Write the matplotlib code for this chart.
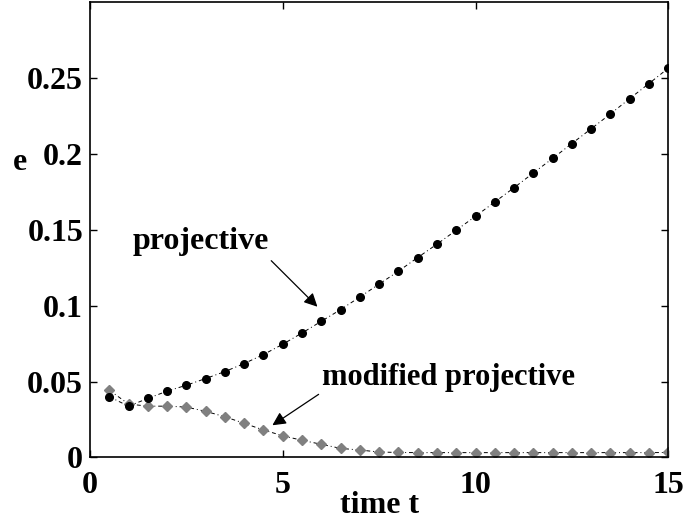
import matplotlib.pyplot as plt
import numpy as np

# time points and error values
t = np.arange(0.5, 15.01, 0.5)
e_proj = [0.040, 0.0338, 0.0389, 0.0437, 0.0476, 0.052, 0.0566, 0.0619, 0.0678, 0.0746,
          0.082, 0.0897, 0.0974, 0.1057, 0.1142, 0.1227, 0.1317, 0.1405, 0.1497, 0.1589,
          0.1683, 0.1777, 0.1874, 0.197, 0.2068, 0.2165, 0.2263, 0.2364, 0.2463, 0.2564]
e_mod = [0.0443, 0.0352, 0.0338, 0.0338, 0.0332, 0.0304, 0.0268, 0.0225, 0.0181, 0.0143,
         0.0113, 0.0087, 0.006, 0.0049, 0.0036, 0.0033, 0.0032, 0.0032, 0.0032, 0.0032,
         0.0032, 0.0032, 0.0032, 0.0032, 0.0032, 0.0032, 0.0032, 0.0032, 0.0032, 0.0033]
xticks = [0, 5, 10, 15]
yticks = [0, 0.05, 0.1, 0.15, 0.2, 0.25]
yticklabels = ['0', '0.05', '0.1', '0.15', '0.2', '0.25']

plt.rcParams['font.family'] = ['Liberation Serif', 'DejaVu Serif']
plt.rcParams['font.weight'] = 'bold'

fig = plt.figure(figsize=(6.85, 5.25), dpi=100)
ax = fig.add_axes([0.1314, 0.1286, 0.8442, 0.8676])

dash = (0, (4, 3, 1, 3))
# dash-dot lines first, markers on top
ax.plot(t, e_proj, color='black', lw=0.7, linestyle=dash)
ax.plot(t, e_mod, color='black', lw=0.7, linestyle=dash)
ax.plot(t, e_mod, linestyle='none', marker='D', ms=5.5, color='#808080', mec='#808080')
ax.plot(t, e_proj, linestyle='none', marker='o', ms=5.5, color='black')

ax.set_xlim(0, 15)
ax.set_ylim(0, 0.3)
ax.set_xticks(xticks)
ax.set_xticklabels([str(v) for v in xticks])
ax.set_yticks(yticks)
ax.set_yticklabels(yticklabels)
ax.tick_params(direction='in', length=5, width=1, top=True, right=True, labelsize=23)
ax.tick_params(axis='x', pad=10)
ax.tick_params(axis='y', pad=5)
for s in ax.spines.values():
    s.set_linewidth(1.2)

ax.set_xlabel('time t', fontsize=23, fontweight='bold', labelpad=-7)
ax.set_ylabel('e', fontsize=23, fontweight='bold', rotation=0, va='center', ha='center')
ax.yaxis.set_label_coords(-0.121, 0.648)

# annotations with arrows
ax.annotate('', xy=(5.95, 0.098), xytext=(4.65, 0.1309),
            arrowprops=dict(arrowstyle='-|>', color='black', lw=0.9, mutation_scale=20))
ax.text(4.65, 0.137, 'projective', fontsize=23, fontweight='bold', ha='right', va='baseline')
ax.annotate('', xy=(4.67, 0.0202), xytext=(5.99, 0.0426),
            arrowprops=dict(arrowstyle='-|>', color='black', lw=0.9, mutation_scale=20))
ax.text(9.3, 0.0475, 'modified projective', fontsize=22, fontweight='bold',
        ha='center', va='baseline')

fig.savefig('out.png', dpi=100)
